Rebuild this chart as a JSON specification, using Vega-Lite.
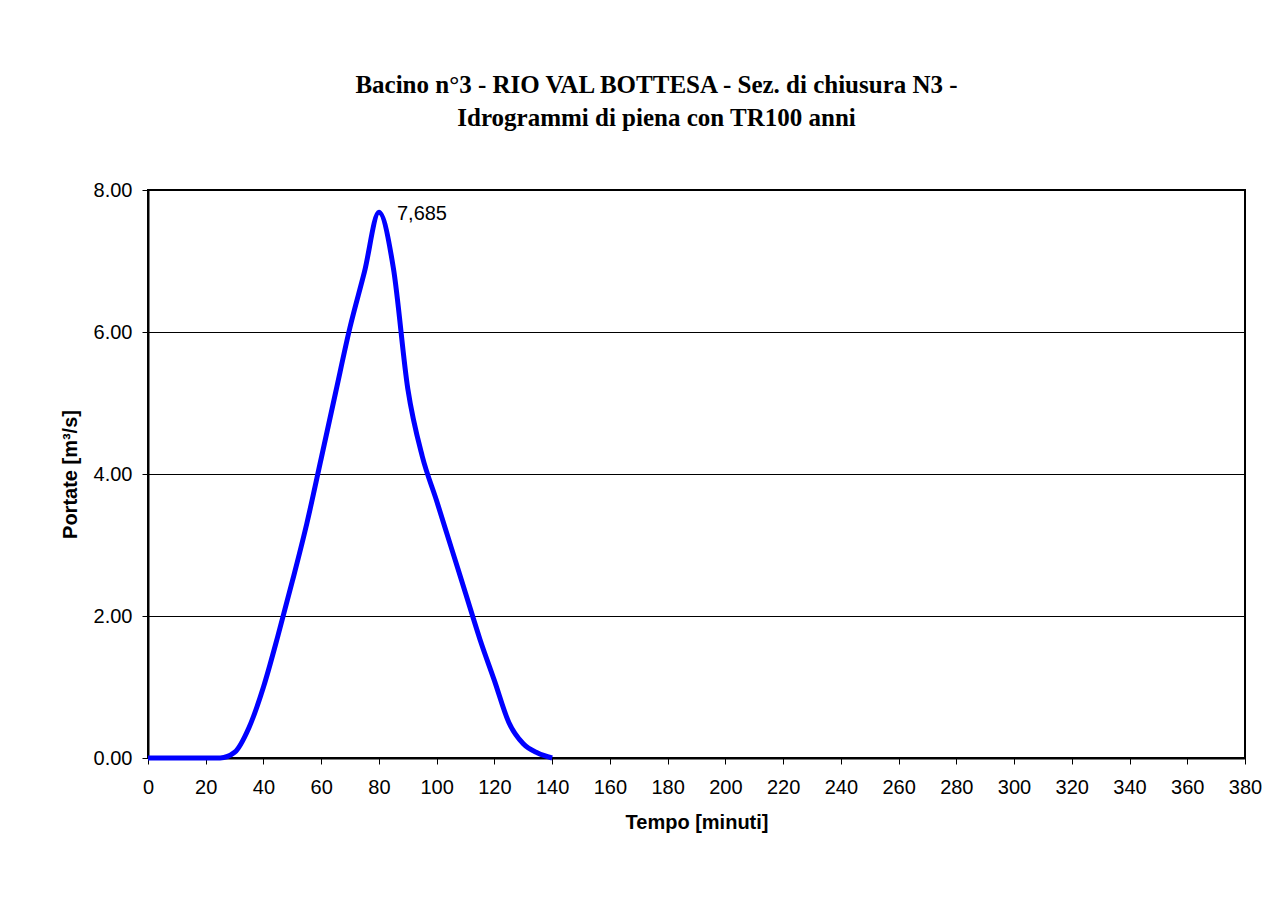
{
  "$schema": "https://vega.github.io/schema/vega-lite/v6.json",
  "width": 1097,
  "height": 568,
  "autosize": {"type": "none"},
  "padding": {"left": 148, "top": 190, "right": 41, "bottom": 165},
  "background": "white",
  "title": {
    "text": ["Bacino n°3 - RIO VAL BOTTESA - Sez. di chiusura N3 -", "Idrogrammi di piena con TR100 anni"],
    "font": "Liberation Serif",
    "fontSize": 25,
    "fontWeight": "bold",
    "color": "black",
    "anchor": "middle",
    "dx": -40,
    "offset": 49,
    "lineHeight": 33
  },
  "config": {
    "view": {"stroke": "black", "strokeWidth": 2},
    "axis": {
      "labelFont": "Liberation Sans",
      "labelFontSize": 20,
      "labelColor": "black",
      "titleFont": "Liberation Sans",
      "titleFontSize": 20,
      "titleFontWeight": "bold",
      "titleColor": "black",
      "domainColor": "black",
      "domainWidth": 2,
      "tickColor": "black",
      "tickWidth": 1,
      "tickSize": 6
    }
  },
  "layer": [
    {
      "data": {
        "values": [
          {"t": 0, "q": 0}, {"t": 5, "q": 0}, {"t": 10, "q": 0}, {"t": 15, "q": 0},
          {"t": 20, "q": 0}, {"t": 25, "q": 0.0}, {"t": 30, "q": 0.08}, {"t": 35, "q": 0.43},
          {"t": 40, "q": 1.0}, {"t": 45, "q": 1.72}, {"t": 50, "q": 2.49}, {"t": 55, "q": 3.3},
          {"t": 60, "q": 4.22}, {"t": 65, "q": 5.15}, {"t": 70, "q": 6.07}, {"t": 75, "q": 6.85},
          {"t": 80, "q": 7.685}, {"t": 85, "q": 6.9}, {"t": 90, "q": 5.2}, {"t": 95, "q": 4.25},
          {"t": 100, "q": 3.62}, {"t": 105, "q": 2.97}, {"t": 110, "q": 2.32}, {"t": 115, "q": 1.67},
          {"t": 120, "q": 1.09}, {"t": 125, "q": 0.5}, {"t": 130, "q": 0.2}, {"t": 135, "q": 0.07},
          {"t": 140, "q": 0}
        ]
      },
      "mark": {"type": "line", "color": "#0000FF", "strokeWidth": 5, "interpolate": "monotone"},
      "encoding": {
        "x": {
          "field": "t", "type": "quantitative",
          "scale": {"domain": [0, 380], "nice": false},
          "axis": {
            "title": "Tempo [minuti]",
            "values": [0,20,40,60,80,100,120,140,160,180,200,220,240,260,280,300,320,340,360,380],
            "grid": false,
            "labelPadding": 13,
            "titlePadding": 15,
            "labelFlush": false
          }
        },
        "y": {
          "field": "q", "type": "quantitative",
          "scale": {"domain": [0, 8], "nice": false},
          "axis": {
            "title": "Portate [m³/s]",
            "values": [0, 2, 4, 6, 8],
            "format": ".2f",
            "grid": true,
            "gridColor": "black",
            "gridWidth": 1,
            "labelPadding": 10,
            "titlePadding": 13,
            "labelFlush": false
          }
        }
      }
    },
    {
      "data": {"values": [{"t": 80, "q": 7.685, "label": "7,685"}]},
      "mark": {"type": "text", "align": "left", "baseline": "middle", "dx": 18, "dy": 2, "font": "Liberation Sans", "fontSize": 20, "color": "black"},
      "encoding": {
        "x": {"field": "t", "type": "quantitative"},
        "y": {"field": "q", "type": "quantitative"},
        "text": {"field": "label"}
      }
    }
  ]
}
